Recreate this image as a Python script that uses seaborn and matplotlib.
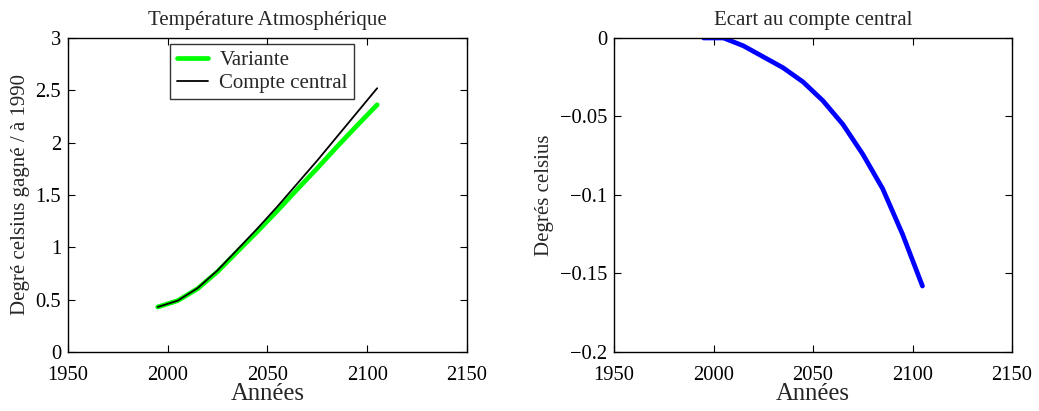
import numpy as np
import pandas as pd
import matplotlib
matplotlib.use("Agg")
import matplotlib.pyplot as plt
from matplotlib.ticker import FuncFormatter
import seaborn as sns

# Years of the simulation (decadal steps)
annees = [1995, 2005, 2015, 2025, 2035, 2045, 2055, 2065, 2075, 2085, 2095, 2105]

# Atmospheric temperature gained relative to 1990 (deg C)
compte_central = [0.43, 0.49, 0.61, 0.78, 0.98, 1.18, 1.39, 1.61, 1.83, 2.06, 2.29, 2.52]
variante = [0.43, 0.49, 0.605, 0.768, 0.961, 1.152, 1.35, 1.555, 1.756, 1.964, 2.165, 2.362]

# Gap between the variant and the central scenario (deg C)
ecart = [0.0, 0.0, -0.005, -0.012, -0.019, -0.028, -0.040, -0.055, -0.074, -0.096, -0.125, -0.158]

xticks = [1950, 2000, 2050, 2100, 2150]
yticks_temp = [0, 0.5, 1, 1.5, 2, 2.5, 3]
yticks_ecart = [-0.2, -0.15, -0.1, -0.05, 0]

sns.set_theme(style="ticks")
plt.rcParams["font.family"] = ["Liberation Serif", "DejaVu Serif"]
plt.rcParams.update({
    "axes.edgecolor": "black",
    "axes.linewidth": 1.0,
    "xtick.direction": "in",
    "ytick.direction": "in",
    "xtick.top": True,
    "ytick.right": True,
    "xtick.major.size": 5,
    "ytick.major.size": 5,
    "xtick.major.width": 0.8,
    "ytick.major.width": 0.8,
    "xtick.color": "black",
    "ytick.color": "black",
    "xtick.labelsize": 14.8,
    "ytick.labelsize": 14.8,
    "axes.unicode_minus": True,
})

df_temp = pd.DataFrame({"annee": annees, "variante": variante, "central": compte_central})
df_ecart = pd.DataFrame({"annee": annees, "ecart": ecart})

fig = plt.figure(figsize=(10.39, 4.11), dpi=100)
ax1 = fig.add_axes([0.0654, 0.1436, 0.384, 0.764])
ax2 = fig.add_axes([0.591, 0.1436, 0.383, 0.764])

fmt = FuncFormatter(lambda v, _: ("%g" % v).replace("-", "\u2212"))

# Left panel: temperature trajectories
sns.lineplot(data=df_temp, x="annee", y="variante", ax=ax1, color="#00ff00",
             linewidth=3.4, label="Variante")
sns.lineplot(data=df_temp, x="annee", y="central", ax=ax1, color="black",
             linewidth=1.3, label="Compte central")
ax1.set_xlim(1950, 2150)
ax1.set_ylim(0, 3)
ax1.set_xticks(xticks)
ax1.set_yticks(yticks_temp)
ax1.yaxis.set_major_formatter(fmt)
ax1.set_title("Température Atmosphérique", fontsize=15, pad=9)
ax1.set_xlabel("Années", fontsize=17.8, labelpad=-1)
ax1.set_ylabel("Degré celsius gagné / à 1990", fontsize=15, labelpad=4)
leg = ax1.legend(loc="upper left", bbox_to_anchor=(0.257, 0.98), borderaxespad=0,
                 fontsize=15, frameon=True, fancybox=False, handlelength=1.5,
                 handletextpad=0.55, borderpad=0.3, labelspacing=0.15)
leg.get_frame().set_edgecolor("black")
leg.get_frame().set_linewidth(1.0)

# Right panel: gap to the central scenario
sns.lineplot(data=df_ecart, x="annee", y="ecart", ax=ax2, color="#0000ff",
             linewidth=3.4, legend=False)
ax2.set_xlim(1950, 2150)
ax2.set_ylim(-0.2, 0)
ax2.set_xticks(xticks)
ax2.set_yticks(yticks_ecart)
ax2.yaxis.set_major_formatter(fmt)
ax2.set_title("Ecart au compte central", fontsize=15, pad=9)
ax2.set_xlabel("Années", fontsize=17.8, labelpad=-1)
ax2.set_ylabel("Degrés celsius", fontsize=15, labelpad=4)

for ax in (ax1, ax2):
    ax.tick_params(axis="x", pad=10)
    ax.tick_params(axis="y", pad=5)
    for s in ax.spines.values():
        s.set_visible(True)
        s.set_color("black")

fig.savefig("out.png", dpi=100, facecolor="white")
